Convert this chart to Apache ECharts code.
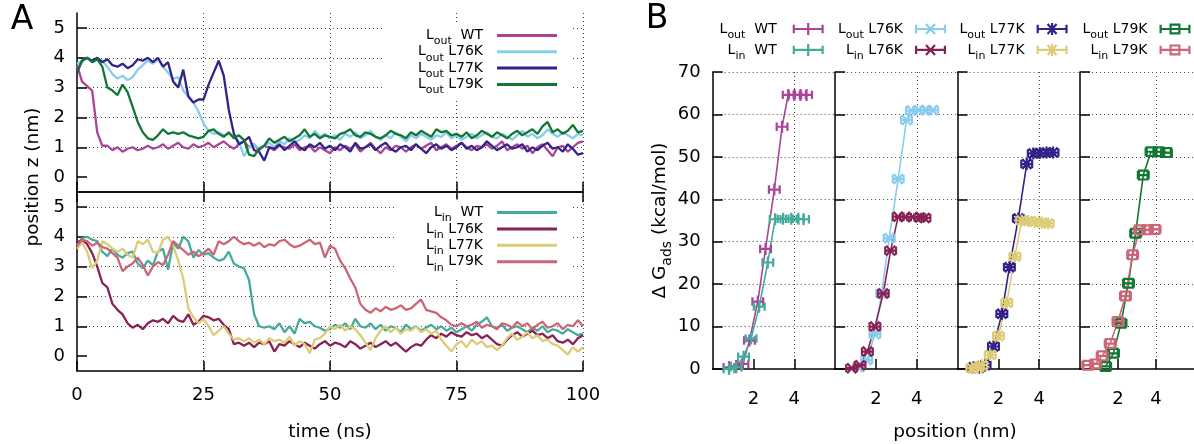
<!DOCTYPE html>
<html><head><meta charset="utf-8">
<script src="https://cdn.jsdelivr.net/npm/echarts@6/dist/echarts.min.js"></script>
<style>html,body{margin:0;padding:0;background:#fff}#c{width:1194px;height:444px}</style>
</head><body><div id="c"></div>
<script>
// ---------- DATA ----------
const timeNs = [0,1,2,3,4,5,6,7,8,9,10,11,12,13,14,15,16,17,18,19,20,21,22,23,24,25,26,27,28,29,30,31,32,33,34,35,36,37,38,39,40,41,42,43,44,45,46,47,48,49,50,51,52,53,54,55,56,57,58,59,60,61,62,63,64,65,66,67,68,69,70,71,72,73,74,75,76,77,78,79,80,81,82,83,84,85,86,87,88,89,90,91,92,93,94,95,96,97,98,99,100];

const zOutWT = [3.75,3.2,3.05,2.9,1.5,1.05,1.05,0.9,1.0,0.85, 0.95,1.0,0.9,0.95,1.05,0.95,1.0,1.1,0.95,1.05, 1.15,1.0,0.95,1.1,1.0,1.05,1.15,1.0,1.1,1.2, 1.05,0.95,1.1,1.2,1.0,1.1,0.9,1.05,1.0,0.9, 1.05,1.0,0.95,1.1,0.9,1.0,1.05,0.85,1.0,0.9, 0.8,1.0,0.9,1.05,0.95,1.1,0.85,1.0,1.15,0.95, 0.8,1.0,0.9,1.05,1.0,0.85,1.0,1.1,0.95,1.05, 1.15,0.9,1.0,1.1,0.95,1.05,1.15,1.0,0.9,1.05, 1.0,1.1,0.95,1.05,1.2,0.9,1.0,1.1,0.95,1.05, 0.8,1.0,1.1,0.9,0.7,1.0,1.05,0.85,1.0,1.15,1.2];
const zOutL76K = [3.8,3.9,4.0,3.85,3.95,3.9,3.7,3.45,3.3,3.4, 3.25,3.35,3.6,3.75,3.9,3.8,3.95,3.7,3.5,3.3, 3.35,2.9,2.7,2.5,2.2,1.8,1.55,1.45,1.5,1.4, 1.45,1.35,1.2,0.7,1.0,1.1,0.95,1.05,1.15,1.0, 1.2,1.1,1.3,1.15,1.25,1.4,1.3,1.55,1.35,1.45, 1.3,1.4,1.25,1.45,1.35,1.5,1.3,1.4,1.55,1.35, 1.25,1.4,1.3,1.5,1.35,1.2,1.4,1.3,1.45,1.35, 1.25,1.4,1.35,1.5,1.3,1.4,1.25,1.35,1.45,1.3, 1.4,1.5,1.35,1.3,1.45,1.35,1.25,1.4,1.55,1.35, 1.45,1.3,1.4,1.6,1.45,1.35,1.5,1.4,1.3,1.45,1.4];
const zOutL77K = [3.5,3.9,4.0,3.9,4.0,3.85,3.95,3.75,3.7,3.8, 3.65,3.75,3.95,3.9,4.0,3.85,4.0,3.7,3.85,3.2, 3.0,3.6,2.7,2.5,2.6,2.6,3.1,3.5,3.9,3.4, 2.25,1.45,1.1,1.2,1.35,0.9,0.85,0.55,1.0,0.95, 1.1,0.9,1.05,1.2,1.0,0.9,1.1,1.0,1.15,0.95, 1.05,0.9,1.1,1.0,0.85,1.15,0.95,1.0,1.1,0.9, 1.05,1.15,0.95,0.85,1.0,1.05,0.9,1.1,0.95,0.8, 1.0,1.1,0.95,1.05,0.9,1.0,1.15,0.95,1.05,0.9, 1.0,1.2,1.05,0.9,1.0,1.1,0.95,1.0,1.1,0.85, 1.0,0.9,1.05,1.15,0.95,1.0,0.85,1.1,0.95,0.75,0.8];
const zOutL79K = [3.55,3.9,4.0,3.85,3.95,3.7,3.0,2.9,2.75,3.1, 2.85,2.35,1.85,1.5,1.3,1.25,1.4,1.6,1.45,1.5, 1.45,1.5,1.4,1.35,1.3,1.35,1.55,1.6,1.45,1.35, 1.5,1.3,1.4,1.25,0.75,0.7,0.95,1.05,1.3,1.15, 1.25,1.35,1.2,1.3,1.4,1.6,1.35,1.45,1.3,1.4, 1.35,1.3,1.45,1.5,1.6,1.4,1.35,1.5,1.45,1.35, 1.3,1.4,1.55,1.45,1.4,1.3,1.5,1.4,1.55,1.45, 1.35,1.6,1.5,1.55,1.4,1.45,1.35,1.5,1.3,1.4, 1.55,1.45,1.35,1.5,1.4,1.3,1.45,1.55,1.4,1.5, 1.6,1.45,1.7,1.85,1.5,1.6,1.45,1.55,1.75,1.5,1.55];

const zInWT = [3.7,3.95,4.0,3.9,3.85,3.5,3.35,3.6,3.4,3.3, 3.45,3.5,3.1,2.95,3.2,3.05,3.5,3.6,2.9,3.8, 3.6,4.0,3.85,3.3,3.55,3.4,3.45,3.3,3.2,3.25, 3.5,3.1,3.0,2.95,2.55,1.4,1.0,0.95,1.0,0.9, 1.1,0.8,1.0,0.75,1.25,1.1,1.15,1.0,0.95,0.85, 0.9,1.05,0.95,1.1,0.9,1.25,1.0,0.95,1.1,0.9, 1.05,0.85,1.0,0.95,0.8,1.05,0.9,1.0,0.85,0.95, 1.05,0.9,1.0,0.85,0.95,0.8,0.9,1.0,0.85,1.05, 1.15,1.3,1.0,0.95,1.05,0.85,0.95,1.0,0.9,0.8, 0.95,0.85,1.0,0.8,0.9,0.85,0.75,0.9,0.8,0.7,0.75];
const zInL76K = [3.8,3.9,3.75,3.45,3.0,2.45,2.3,1.75,1.55,1.4, 1.1,0.95,1.05,0.9,1.1,1.2,1.15,1.25,1.1,1.35, 1.2,1.15,1.4,1.05,1.15,1.35,1.3,1.2,1.25,1.05, 0.9,0.4,0.45,0.35,0.45,0.3,0.45,0.4,0.5,0.15, 0.4,0.35,0.5,0.4,0.3,0.45,0.35,0.25,0.4,0.5, 0.35,0.45,0.4,0.3,0.5,0.4,0.25,0.35,0.45,0.3, 0.4,0.5,0.35,0.45,0.3,0.15,0.3,0.4,0.35,0.55, 0.7,0.6,0.75,0.65,0.8,0.7,0.65,0.8,0.7,0.75, 0.6,0.7,0.55,0.4,0.35,0.55,0.7,0.8,0.65,0.75, 0.85,0.7,0.75,0.6,0.7,0.5,0.45,0.55,0.4,0.6,0.7];
const zInL77K = [3.6,3.8,3.5,2.95,3.2,3.85,3.75,3.6,3.5,3.6, 3.4,3.3,3.85,3.75,3.9,3.5,3.45,3.9,4.0,3.7, 3.2,2.6,1.6,1.3,1.1,1.25,1.0,0.7,0.85,1.0, 0.75,0.55,0.6,0.5,0.6,0.45,0.55,0.4,0.6,0.5, 0.55,0.45,0.65,0.35,0.5,0.4,0.1,0.55,0.6,0.75, 1.0,0.9,1.05,0.85,1.0,0.9,0.7,0.45,0.2,0.6, 0.85,1.0,0.8,0.95,0.75,0.9,0.85,1.0,0.8,0.9, 0.75,0.85,0.55,0.35,0.15,0.4,0.5,0.3,0.55,0.4, 0.5,0.3,0.35,0.2,0.35,0.6,0.75,0.55,0.65,0.8, 0.6,0.7,0.5,0.55,0.4,0.35,0.2,0.05,0.3,0.15,0.3];
const zInL79K = [3.7,3.9,3.85,3.7,3.8,3.65,3.6,3.45,3.3,2.85, 3.0,3.1,3.3,3.05,2.7,3.0,3.15,3.05,3.4,3.85, 3.7,3.55,3.4,3.5,3.35,3.45,3.6,3.4,3.85,3.75, 3.85,4.0,3.85,3.75,3.8,3.7,3.8,3.65,3.75,3.7, 3.85,3.9,3.75,3.65,3.7,3.8,3.9,3.75,3.8,3.3, 3.7,3.6,3.2,2.95,2.6,2.3,1.75,1.55,1.45,1.6, 1.5,1.65,1.55,1.6,1.7,1.55,1.6,1.75,1.9,1.55, 1.5,1.45,1.3,1.2,1.05,1.0,1.1,1.0,1.05,1.15, 0.95,1.05,1.0,0.9,1.1,1.05,0.95,1.15,1.0,1.1, 0.9,1.05,1.15,0.95,1.0,1.1,0.9,1.05,1.0,1.2,1.0];

const posOutWT  = [0.80,1.15,1.48,1.80,2.21,2.59,3.02,3.40,3.70,4.00,4.30,4.60];
const dgOutWT   = [0.4,0.7,1.2,6.7,15.9,28.3,42.3,57.1,64.6,64.6,64.6,64.6];
const posInWT   = [0.80,1.15,1.51,1.88,2.28,2.70,3.06,3.45,3.85,4.20,4.45];
const dgInWT    = [0.0,0.4,2.9,7.2,14.7,25.1,35.3,35.4,35.4,35.4,35.3];
const posOutL76K = [1.14,1.55,1.95,2.28,2.65,3.09,3.50,3.74,4.10,4.45,4.78];
const dgOutL76K  = [0.4,2.1,8.2,17.8,30.8,44.8,58.7,60.9,61.0,61.0,61.0];
const posInL76K  = [0.81,1.22,1.58,1.95,2.36,2.72,3.09,3.45,3.80,4.15,4.40];
const dgInL76K   = [0.2,0.9,4.1,10.0,17.8,27.9,35.9,35.8,35.8,35.7,35.6];
const posOutL77K = [0.78,1.05,1.35,1.76,2.17,2.54,2.98,3.39,3.71,4.03,4.36,4.68];
const dgOutL77K  = [0.4,0.3,0.9,5.3,13.0,24.0,35.5,48.3,50.8,50.9,51.0,51.0];
const posInL77K  = [0.70,1.00,1.19,1.60,2.00,2.41,2.81,3.14,3.46,3.79,4.12,4.44];
const dgInL77K   = [0.2,0.3,0.9,3.3,7.8,15.6,26.5,35.0,34.9,34.7,34.5,34.3];
const posOutL79K = [1.35,1.76,2.16,2.55,2.93,3.33,3.74,4.15,4.55];
const dgOutL79K  = [0.6,3.7,10.8,20.2,32.0,45.7,51.2,51.2,51.0];
const posInL79K  = [0.41,0.81,1.17,1.59,2.00,2.39,2.77,3.14,3.55,3.95];
const dgInL79K   = [0.9,1.2,3.1,6.0,11.2,17.2,26.9,32.8,32.8,32.9];

const ticksZ = [0,1,2,3,4,5];
const ticksTime = [0,25,50,75,100];
const ticksPos = [2,4];
const ticksDG = [0,10,20,30,40,50,60,70];

const namesOut = ['L_out  WT','L_out L76K','L_out L77K','L_out L79K'];
const namesIn  = ['L_in  WT','L_in L76K','L_in L77K','L_in L79K'];

// ---------- STYLE ----------
const FF = '"DejaVu Sans", Verdana, sans-serif';
const colorList = ['#AA4499','#88CCEE','#332288','#117733','#44AA99','#882255','#DDCC77','#CC6677'];
const colors = {};
namesOut.concat(namesIn).forEach((n,i)=>colors[n]=colorList[i]);
const kindList = ['plus','cross','star','box'];

function rectPoly(x,y,w,h){return [[x,y],[x+w,y],[x+w,y+h],[x,y+h]];}
function segPoly(ax,ay,bx,by,t){const dx=bx-ax,dy=by-ay,L=Math.hypot(dx,dy);const nx=-dy/L*t/2,ny=dx/L*t/2;return [[ax+nx,ay+ny],[bx+nx,by+ny],[bx-nx,by-ny],[ax-nx,ay-ny]];}
function area(p){let s=0;for(let i=0;i<p.length;i++){const a=p[i],b=p[(i+1)%p.length];s+=a[0]*b[1]-b[0]*a[1];}return s;}
function polyStr(p,hole){let q=p.slice();const s=area(q);if((s<0)!==!!hole)q.reverse();return 'M'+q.map(v=>v[0].toFixed(2)+' '+v[1].toFixed(2)).join(' L')+' Z';}
function markerPath(kind,w,h,sw,t){
  const cx=w/2,cy=h/2,capH=h*0.7;const parts=[];
  parts.push('M0 0 L0.01 0 L0 0.01 Z');
  parts.push(`M${w} ${h} L${w-0.01} ${h} L${w} ${h-0.01} Z`);
  parts.push(polyStr(rectPoly(0,cy-t/2,w,t)));
  parts.push(polyStr(rectPoly(0,cy-capH/2,t,capH)));
  parts.push(polyStr(rectPoly(w-t,cy-capH/2,t,capH)));
  const x0=cx-sw/2,x1=cx+sw/2;
  if(kind==='plus'||kind==='star')parts.push(polyStr(rectPoly(cx-t/2,0,t,h)));
  if(kind==='cross'||kind==='star'){parts.push(polyStr(segPoly(x0+1,1,x1-1,h-1,t)));parts.push(polyStr(segPoly(x1-1,1,x0+1,h-1,t)));}
  if(kind==='box'){parts.push(polyStr(rectPoly(x0,0.5,sw,h-1)));parts.push(polyStr(rectPoly(x0+t,0.5+t,sw-2*t,h-1-2*t),true));}
  return 'path://'+parts.join(' ');
}

const richLeg = (gap)=>({
  m:{fontFamily:FF,fontSize:14,lineHeight:14,color:'#000'},
  s:{fontFamily:FF,fontSize:11,lineHeight:11,color:'#000',padding:[6,0,-6,0]},
  g:{fontFamily:FF,fontSize:14,lineHeight:14,width:gap}
});
function legFmt(name){const i=name.indexOf(' ');return `{m|L}{s|${name.slice(2,i)}}{m|${name.slice(i)}}{g| }`;}

const axLine = {show:true,onZero:false,lineStyle:{color:'#000',width:1.5}};
const tickIn = (vals)=>({show:true,inside:true,length:10,customValues:vals,lineStyle:{color:'#000',width:1.5}});
const gridDot = {show:true,showMinLine:false,lineStyle:{color:'#444',width:1,type:[1,3]}};
const lab = (vals,show,margin)=>({show:show,customValues:vals,fontFamily:FF,fontSize:18,color:'#000',margin:margin});

// ---------- LAYOUT ----------
const grids = [
  {left:77,top:13,width:506,height:179},
  {left:77,top:192,width:506,height:179}
];
const bLeft=712.7,bW=122.43;
for(let i=0;i<4;i++)grids.push({left:bLeft+i*bW,top:72,width:bW,height:297});

const xAxes = [
  {gridIndex:0,type:'value',min:0,max:100,position:'bottom',axisLine:axLine,axisTick:tickIn(ticksTime),axisLabel:lab(ticksTime,false,14),splitLine:gridDot},
  {gridIndex:1,type:'value',min:0,max:100,position:'bottom',axisLine:axLine,axisTick:tickIn(ticksTime),axisLabel:lab(ticksTime,true,15),splitLine:gridDot},
  {gridIndex:1,type:'value',min:0,max:100,position:'top',axisLine:axLine,axisTick:tickIn(ticksTime),axisLabel:{show:false},splitLine:{show:false}}
];
const yAxes = [
  {gridIndex:0,type:'value',min:-0.5,max:5.5,axisLine:axLine,axisTick:tickIn(ticksZ),axisLabel:lab(ticksZ,true,12),splitLine:gridDot},
  {gridIndex:1,type:'value',min:-0.5,max:5.5,axisLine:axLine,axisTick:tickIn(ticksZ),axisLabel:lab(ticksZ,true,12),splitLine:gridDot}
];
for(let i=0;i<4;i++){
  xAxes.push({gridIndex:2+i,type:'value',min:0,max:6,position:'bottom',axisLine:axLine,axisTick:tickIn(ticksPos),axisLabel:lab(ticksPos,true,21),splitLine:gridDot});
  const y={gridIndex:2+i,type:'value',min:0,max:70,interval:10,axisLine:axLine,axisTick:tickIn(ticksDG),axisLabel:lab(ticksDG,i===0,12),splitLine:gridDot};
  if(i===0){
    y.name='{a|Δ G}{s|ads}{a| (kcal/mol)}';
    y.nameLocation='middle';y.nameGap=38;
    y.nameTextStyle={rich:{a:{fontFamily:FF,fontSize:18.5,color:'#000'},s:{fontFamily:FF,fontSize:14,color:'#000',padding:[7,0,-7,0]}}};
  }
  yAxes.push(y);
}

// ---------- SERIES ----------
const series=[];
const outA=[zOutWT,zOutL76K,zOutL77K,zOutL79K], inA=[zInWT,zInL76K,zInL77K,zInL79K];
function tsSeries(name,vals,gi){
  return {name,type:'line',xAxisIndex:gi===0?0:1,yAxisIndex:gi,symbol:'none',
    data:timeNs.map((t,i)=>[t,vals[i]]),lineStyle:{color:colors[name],width:2.3},itemStyle:{color:colors[name]},z:2};
}
namesOut.forEach((n,i)=>series.push(tsSeries(n,outA[i],0)));
namesIn.forEach((n,i)=>series.push(tsSeries(n,inA[i],1)));

const bData=[[posOutWT,dgOutWT,posInWT,dgInWT],[posOutL76K,dgOutL76K,posInL76K,dgInL76K],[posOutL77K,dgOutL77K,posInL77K,dgInL77K],[posOutL79K,dgOutL79K,posInL79K,dgInL79K]];
function bSeries(name,px,py,k){
  return {name,type:'line',xAxisIndex:3+k,yAxisIndex:2+k,symbol:markerPath(kindList[k],13,12,11,2.2),symbolSize:[13,12],
    showAllSymbol:true,data:px.map((x,i)=>[x,py[i]]),lineStyle:{color:colors[name],width:1.6},
    itemStyle:{color:colors[name],borderWidth:0},z:3};
}
for(let k=0;k<4;k++){
  series.push(bSeries(namesOut[k],bData[k][0],bData[k][1],k));
  series.push(bSeries(namesIn[k],bData[k][2],bData[k][3],k));
}

// ---------- LEGENDS ----------
const legends=[
  {orient:'vertical',align:'right',right:624,top:22.5,padding:[6,13,4,36],backgroundColor:'#fff',itemWidth:60,itemHeight:3,itemGap:-2.2,icon:'rect',selectedMode:false,data:namesOut,formatter:legFmt,textStyle:{fontFamily:FF,fontSize:14,lineHeight:14,rich:richLeg(9)}},
  {orient:'vertical',align:'right',right:624,top:199.5,padding:[6,13,4,30],backgroundColor:'#fff',itemWidth:60,itemHeight:3,itemGap:-2.1,icon:'rect',selectedMode:false,data:namesIn,formatter:legFmt,textStyle:{fontFamily:FF,fontSize:14,lineHeight:14,rich:richLeg(9)}}
];
const bRights=[370.3,248,126.4,3.5];
for(let k=0;k<4;k++){
  legends.push({orient:'vertical',align:'right',right:bRights[k],top:22,padding:0,itemWidth:31,itemHeight:12,itemGap:2.4,selectedMode:false,
    data:[namesOut[k],namesIn[k]].map(n=>({name:n,icon:markerPath(kindList[k],31,12,11,2.2)})),
    formatter:legFmt,textStyle:{fontFamily:FF,fontSize:14,lineHeight:14,rich:richLeg(k===0?11:7)}});
}

const option={
  animation:false,backgroundColor:'#fff',
  grid:grids,xAxis:xAxes,yAxis:yAxes,series,legend:legends,
  graphic:[
    {type:'text',x:22,y:20,style:{text:'A',font:'33px '+FF,fill:'#000',textAlign:'center',textVerticalAlign:'middle'}},
    {type:'text',x:657,y:19,style:{text:'B',font:'33px '+FF,fill:'#000',textAlign:'center',textVerticalAlign:'middle'}},
    {type:'text',x:33,y:177,rotation:Math.PI/2,style:{text:'position z (nm)',font:'18.5px '+FF,fill:'#000',textAlign:'center',textVerticalAlign:'middle'}},
    {type:'text',x:330,y:432,style:{text:'time (ns)',font:'18.5px '+FF,fill:'#000',textAlign:'center',textVerticalAlign:'middle'}},
    {type:'text',x:955,y:432,style:{text:'position (nm)',font:'18.5px '+FF,fill:'#000',textAlign:'center',textVerticalAlign:'middle'}}
  ]
};
echarts.init(document.getElementById('c'),null,{renderer:'canvas'}).setOption(option);
</script></body></html>
